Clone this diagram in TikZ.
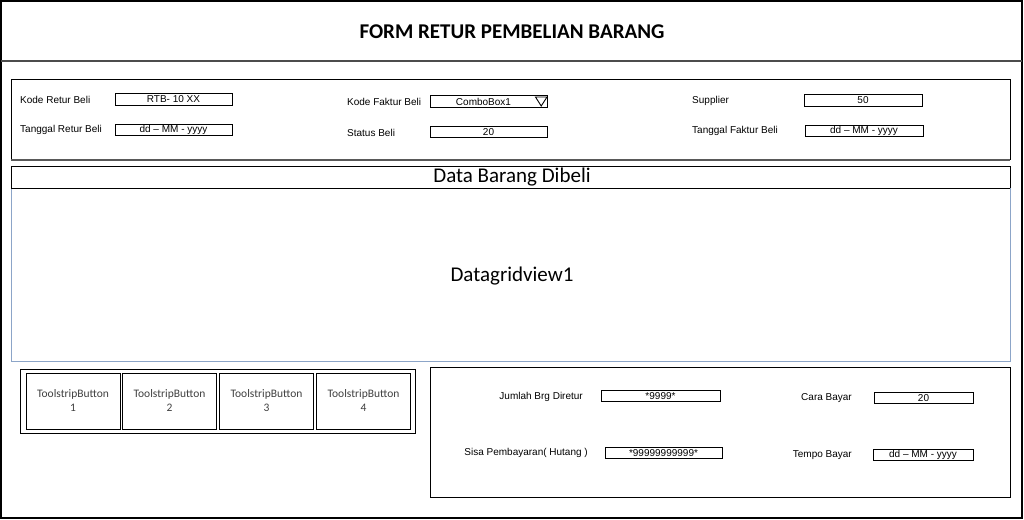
\documentclass[tikz,border=0pt]{standalone}
\usepackage{fontspec}
\setmainfont{Liberation Sans}
\newfontfamily\calfont{Carlito}
\begin{document}
\begin{tikzpicture}[x=1pt,y=-1pt,
  lbl/.style={inner sep=0pt, font=\fontsize{10}{12}\selectfont},
  field/.style={draw, line width=0.8pt, minimum height=11.5pt, inner sep=0pt, font=\fontsize{10}{10}\selectfont},
  panel/.style={draw, line width=1pt},
  tsbtn/.style={draw, line width=1pt, minimum width=94pt, minimum height=56pt, inner sep=0pt, align=center, text=black!75, font=\calfont\fontsize{11.5}{14}\selectfont},
]
\useasboundingbox (0,0) rectangle (1024,519);
\fill[white] (0,0) rectangle (1024,519);
% outer frame and title
\draw[line width=1.2pt] (1,1) rectangle (1022,518);
\draw[line width=2pt, black!70] (1,61) -- (1022,61);
\node[font=\calfont\bfseries\fontsize{21}{24}\selectfont] (title) at (512,32) {FORM RETUR PEMBELIAN BARANG};
% header panel
\draw[panel] (11,160) -- (11,79) -- (1010,79) -- (1010,160);
\draw[line width=2pt, black!65] (11,160) -- (1010,160);
\node[lbl, anchor=west] (l1) at (20,100) {Kode Retur Beli};
\node[field, minimum width=117pt] (f1) at (173.5,99.5) {RTB- 10 XX};
\node[lbl, anchor=west] (l2) at (20,130) {Tanggal Retur Beli};
\node[field, minimum width=117pt] (f2) at (173.5,130) {dd -- MM - yyyy};
\node[lbl, anchor=west] (l3) at (347,102) {Kode Faktur Beli};
\node[field, minimum width=117pt] (f3) at (488.5,101.5) {\hspace*{-10pt}ComboBox1};
\draw[line width=0.9pt] (535.5,97) -- (547,97) -- (541.2,106) -- cycle;
\node[lbl, anchor=west] (l4) at (347,133) {Status Beli};
\node[field, minimum width=117pt] (f4) at (488.5,132) {20};
\node[lbl, anchor=west] (l5) at (692,101) {Supplier};
\node[field, minimum width=118pt] (f5) at (863,100.5) {50};
\node[lbl, anchor=west] (l6) at (692,131) {Tanggal Faktur Beli};
\node[field, minimum width=118pt] (f6) at (864,131) {dd -- MM - yyyy};
% data grid
\draw[panel] (11,166) rectangle (1010,188);
\node[font=\calfont\fontsize{21}{24}\selectfont] (dbd) at (512,177) {Data Barang Dibeli};
\draw[line width=1pt, color={rgb,255:red,140;green,165;blue,200}] (11,188) rectangle (1010,361);
\draw[line width=1pt] (11,188) -- (1010,188);
\node[font=\calfont\fontsize{21}{24}\selectfont] (dgv) at (512,276) {Datagridview1};
% toolstrip
\draw[line width=1pt] (20,369) rectangle (415,433);
\node[tsbtn] (b1) at (73,401) {ToolstripButton\\1};
\node[tsbtn] (b2) at (169.5,401) {ToolstripButton\\2};
\node[tsbtn] (b3) at (266.5,401) {ToolstripButton\\3};
\node[tsbtn] (b4) at (363.5,401) {ToolstripButton\\4};
% bottom panel
\draw[panel] (430,367) rectangle (1010,497);
\node[lbl, anchor=east] (l7) at (583,397) {Jumlah Brg Diretur};
\node[field, minimum width=119pt] (f7) at (660.5,396) {*9999*};
\node[lbl, anchor=east] (l8) at (852,398) {Cara Bayar};
\node[field, minimum width=99pt] (f8) at (923.5,398) {20};
\node[lbl, anchor=east] (l9) at (588,453) {Sisa Pembayaran( Hutang )};
\node[field, minimum width=117pt] (f9) at (663.5,453) {*99999999999*};
\node[lbl, anchor=east] (l10) at (852,455) {Tempo Bayar};
\node[field, minimum width=100pt] (f10) at (923,455) {dd -- MM - yyyy};
\end{tikzpicture}
\end{document}
